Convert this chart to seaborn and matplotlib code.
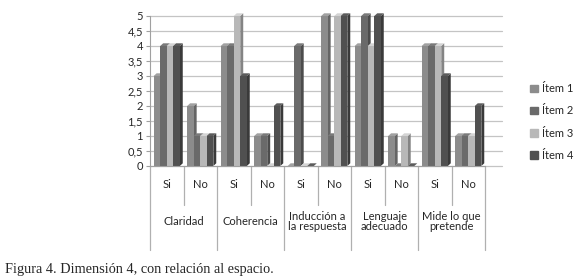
import numpy as np
import pandas as pd
import seaborn as sns
from matplotlib import pyplot as plt
from matplotlib.patches import Polygon
from matplotlib.colors import to_rgb

categorias = ["Claridad", "Coherencia", "Inducción a\nla respuesta", "Lenguaje\nadecuado", "Mide lo que\npretende"]
respuestas = ["Si", "No"]
items = ["Ítem 1", "Ítem 2", "Ítem 3", "Ítem 4"]
item1 = [3, 2, 4, 1, 0, 5, 4, 1, 4, 1]
item2 = [4, 1, 4, 1, 4, 1, 5, 0, 4, 1]
item3 = [4, 1, 5, 0, 0, 5, 4, 1, 4, 1]
item4 = [4, 1, 3, 2, 0, 5, 5, 0, 3, 2]
yticks = [0, 0.5, 1, 1.5, 2, 2.5, 3, 3.5, 4, 4.5, 5]

colores = ["#8c8c8c", "#6a6a6a", "#b8b8b8", "#505050"]

grupos = [f"{c}|{r}" for c in categorias for r in respuestas]
df = pd.DataFrame({"grupo": grupos, "Ítem 1": item1, "Ítem 2": item2,
                   "Ítem 3": item3, "Ítem 4": item4})
df = df.melt(id_vars="grupo", var_name="item", value_name="valor")

sns.set_style("white")
plt.rcParams["font.family"] = ["Lato", "DejaVu Sans"]

fig = plt.figure(figsize=(5.8, 2.79), dpi=100)
ax = fig.add_axes([150 / 580, 113 / 279, 335 / 580, 150 / 279])

sns.barplot(data=df, x="grupo", y="valor", hue="item", order=grupos,
            hue_order=items, palette=colores, width=0.78, ax=ax,
            saturation=1, legend=False, edgecolor="none")

# caras pseudo 3D a partir de las barras dibujadas
for p in sorted(ax.patches, key=lambda r: r.get_x()):
    x0, w, h = p.get_x(), p.get_width(), p.get_height()
    x1 = x0 + w
    dx, dy = w * 0.45, 0.09
    base = np.array(to_rgb(p.get_facecolor()))
    z = 2 + x0 * 0.01
    p.set_zorder(z + 0.002)
    side = Polygon([(x1, 0), (x1 + dx, dy), (x1 + dx, h + dy), (x1, h)],
                   closed=True, facecolor=base * 0.72, edgecolor="none",
                   zorder=z, clip_on=False)
    top = Polygon([(x0, h), (x0 + dx, h + dy), (x1 + dx, h + dy), (x1, h)],
                  closed=True, facecolor=np.minimum(base * 1.15, 1), edgecolor="none",
                  zorder=z + 0.001, clip_on=False)
    ax.add_patch(side)
    ax.add_patch(top)

ax.set_ylim(0, 5)
ax.set_xlim(-0.5, len(grupos) - 0.5)
ax.set_yticks(yticks)
ax.set_yticklabels([f"{v:g}".replace(".", ",") for v in yticks], fontsize=8)
for v in yticks:
    ax.axhline(v, xmin=0, xmax=1.05, color="#c4c4c4", linewidth=0.9,
               zorder=0.5, clip_on=False)
ax.tick_params(axis="y", length=3, color="#a0a0a0", left=True, pad=2)
ax.set_xlabel("")
ax.set_ylabel("")
for s in ["top", "right"]:
    ax.spines[s].set_visible(False)
ax.spines["left"].set_color("#a0a0a0")
ax.spines["bottom"].set_color("#a0a0a0")

ax.set_xticks(range(len(grupos)))
ax.set_xticklabels([g.split("|")[1] for g in grupos], fontsize=8)
ax.tick_params(axis="x", length=0, pad=9)

trans = ax.get_xaxis_transform()
for i in range(len(grupos) + 1):
    pos = i - 0.5
    y_end = -0.56 if i % 2 == 0 else -0.26
    ax.plot([pos, pos], [0, y_end], color="#b0b0b0", linewidth=0.9,
            transform=trans, clip_on=False)
for j, c in enumerate(categorias):
    ax.text(2 * j + 0.5, -0.37, c, transform=trans, ha="center", va="center",
            fontsize=8, linespacing=1.0)

handles = [plt.Rectangle((0, 0), 1, 1, color=c) for c in colores]
fig.legend(handles, items, loc="center left", bbox_to_anchor=(520 / 580, 1 - 122 / 279),
           frameon=False, fontsize=8, handlelength=0.7, handleheight=0.7,
           handletextpad=0.4, labelspacing=1.0)

fig.text(5 / 580, 1 - 269 / 279, "Figura 4. Dimensión 4, con relación al espacio.",
         family="Liberation Serif", fontsize=10.3, va="center")

fig.savefig("out.png", dpi=100)
